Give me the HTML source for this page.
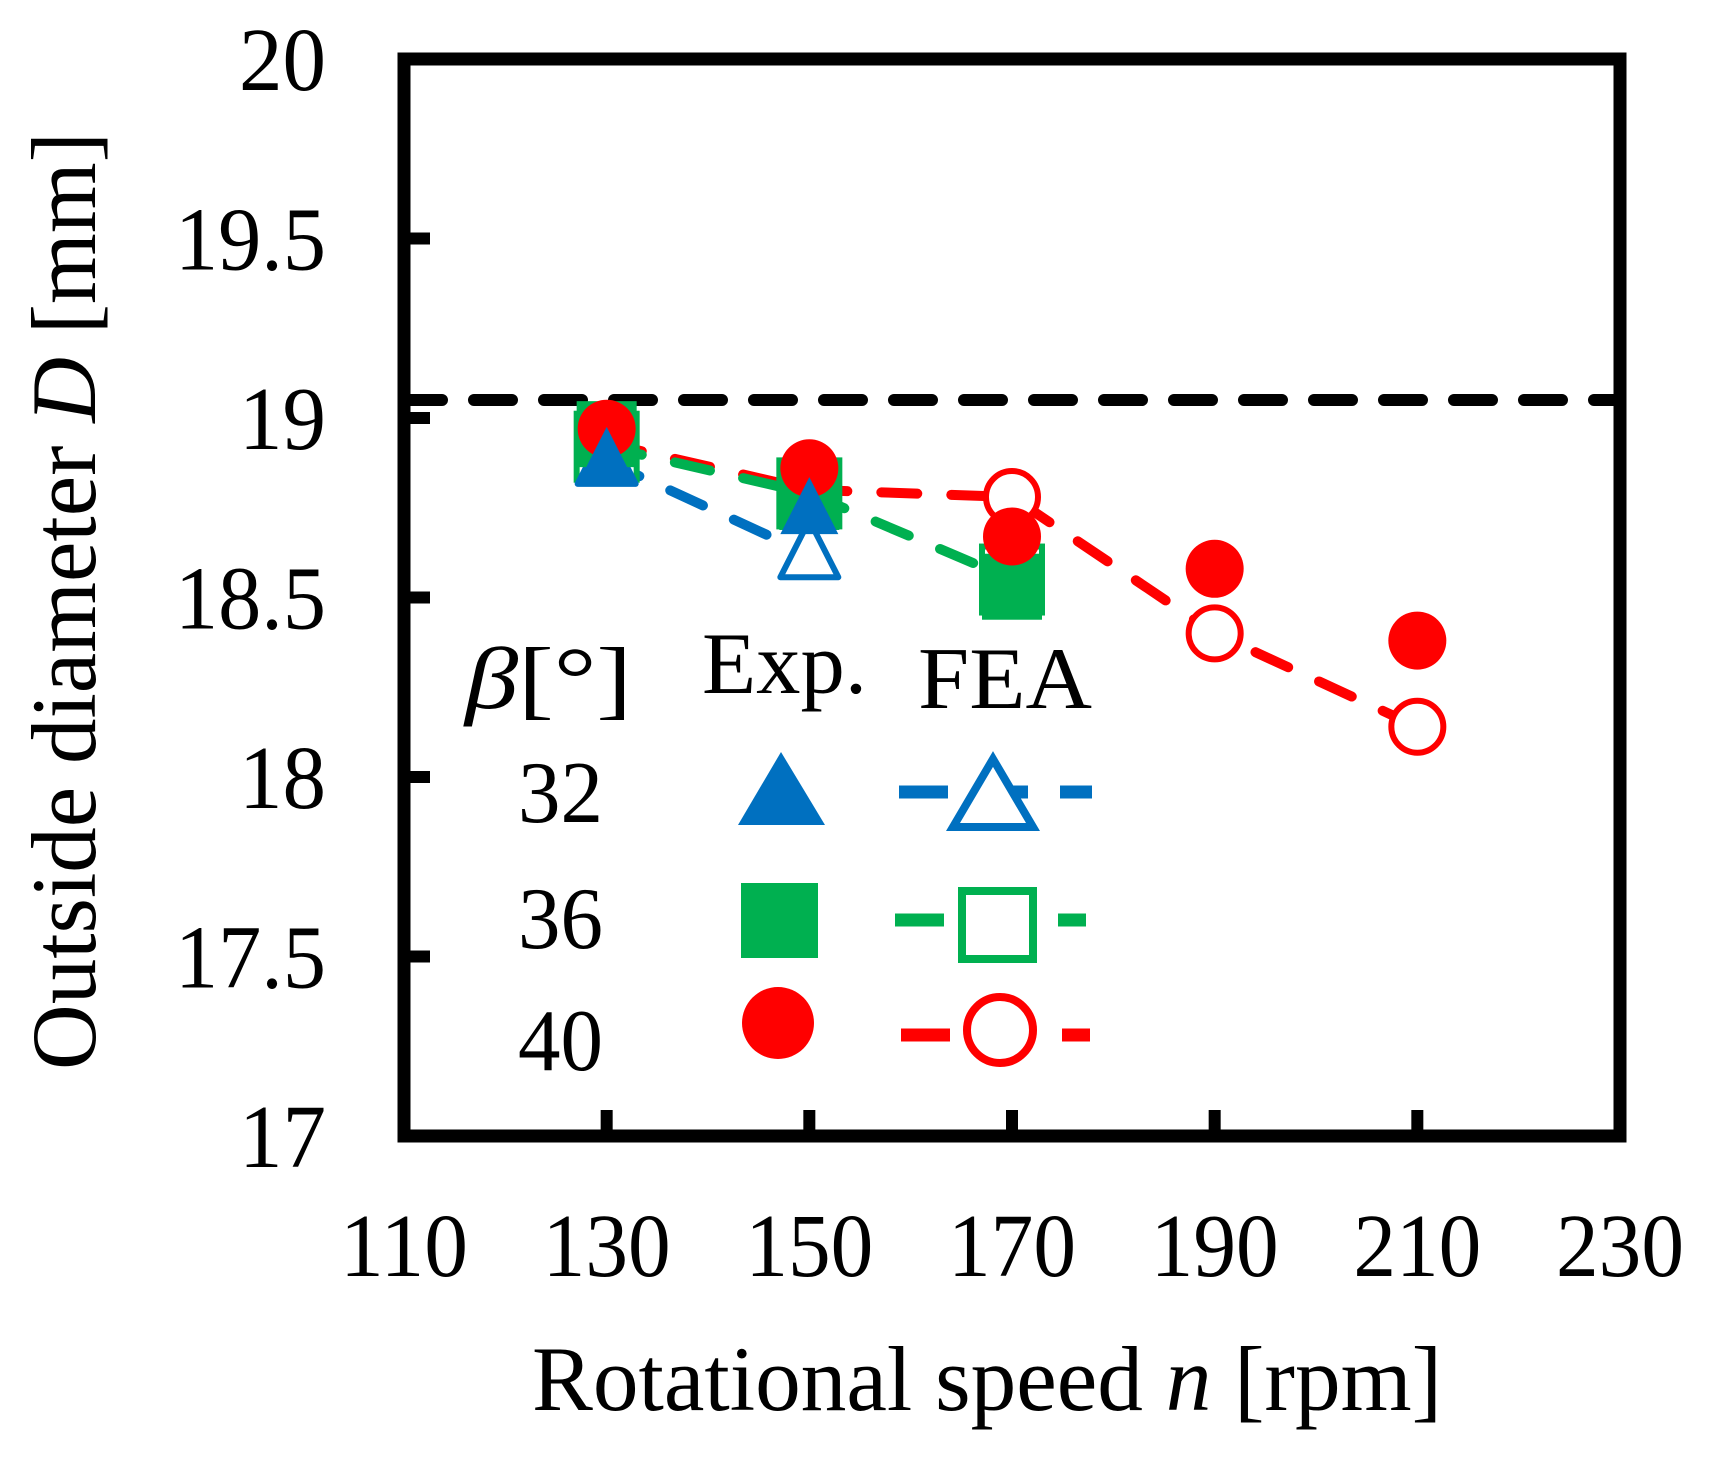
<!DOCTYPE html>
<html><head><meta charset="utf-8"><style>
html,body{margin:0;padding:0;background:#fff;}
svg{display:block;}
text{font-family:"Liberation Serif",serif;fill:#000;}
</style></head><body>
<svg id="chart" width="1711" height="1459" viewBox="0 0 1711 1459">
<g id="series"></g>
<g id="axes"></g>
<g id="legend">
  <text x="465" y="708" font-size="88" textLength="167" lengthAdjust="spacingAndGlyphs"><tspan font-style="italic">β</tspan>[°]</text>
  <text x="702" y="693" font-size="88" textLength="165" lengthAdjust="spacingAndGlyphs">Exp.</text>
  <text x="918" y="708" font-size="88" textLength="174" lengthAdjust="spacingAndGlyphs">FEA</text>
  <text x="518" y="822" font-size="88" textLength="85" lengthAdjust="spacingAndGlyphs">32</text>
  <text x="518" y="948" font-size="88" textLength="85" lengthAdjust="spacingAndGlyphs">36</text>
  <text x="518" y="1070" font-size="88" textLength="85" lengthAdjust="spacingAndGlyphs">40</text>
  <polygon points="781,752 825,825 738,825" fill="#0070C0"/>
  <rect x="741" y="883" width="77" height="75" fill="#00B050"/>
  <circle cx="778" cy="1023" r="36" fill="#FF0000"/>
  <line x1="899" y1="792" x2="1092" y2="792" stroke="#0070C0" stroke-width="13" stroke-dasharray="49 61 19 32 32"/>
  <polygon points="993,759 1033,827 953,827" fill="#fff" stroke="#0070C0" stroke-width="8"/>
  <line x1="895" y1="920" x2="1086" y2="920" stroke="#00B050" stroke-width="13" stroke-dasharray="49 114 28"/>
  <rect x="962" y="891" width="71" height="68" fill="#fff" stroke="#00B050" stroke-width="8"/>
  <line x1="901" y1="1035" x2="1090" y2="1035" stroke="#FF0000" stroke-width="13" stroke-dasharray="49 112 28"/>
  <circle cx="1000" cy="1030" r="33" fill="#fff" stroke="#FF0000" stroke-width="8"/>
</g>
</svg>
<script>
const xTicks = [110,130,150,170,190,210,230];
const yTicks = [17,17.5,18,18.5,19,19.5,20];
const yTickLabels = ["17","17.5","18","18.5","19","19.5","20"];
const refLine = 19.05;
const speeds = [130,150,170,190,210];
const exp32 = [18.88,18.74];
const fea32 = [18.88,18.62];
const exp36 = [18.955,18.78,18.53];
const fea36 = [18.92,18.79,18.55];
const exp40 = [18.97,18.86,18.67,18.58,18.38];
const fea40 = [18.93,18.80,18.78,18.40,18.14];

const X0=404, X1=1620, Y0=1136, Y1=59;
function sx(v){return X0+(v-110)/(230-110)*(X1-X0);}
function sy(v){return Y0-(v-17)/(20-17)*(Y0-Y1);}
const NS="http://www.w3.org/2000/svg";
function mk(tag,attrs,parent){const e=document.createElementNS(NS,tag);for(const k in attrs)e.setAttribute(k,attrs[k]);parent.appendChild(e);return e;}
const axes=document.getElementById('axes'), ser=document.getElementById('series');

let rl=mk('line',{x1:X0,x2:X1,y1:sy(refLine),y2:sy(refLine),stroke:'#000','stroke-width':12,'stroke-dasharray':'38 32','stroke-linecap':'round'},ser);



function dashLine(vals,color,name){
  const pts=vals.map((v,i)=>sx(speeds[i])+','+sy(v)).join(' ');
  const p=mk('polyline',{points:pts,fill:'none',stroke:color,'stroke-width':10,'stroke-dasharray':'36 34','stroke-linecap':'round'},ser);
  
  
}
function tri(x,y,fill,stroke,name){
  const h=57,w=58;
  const p=mk('polygon',{points:`${x},${y-h*0.6} ${x+w/2},${y+h*0.4} ${x-w/2},${y+h*0.4}`,fill:fill,stroke:stroke,'stroke-width':stroke==='none'?0:6,'stroke-linejoin':'round'},ser);
  
  
}
function sq(x,y,fill,stroke,name){
  const p=mk('rect',{x:x-30,y:y-33,width:60,height:66,fill:fill,stroke:stroke,'stroke-width':stroke==='none'?0:6},ser);
  
  
}
function circ(x,y,fill,stroke,name){
  const p=mk('circle',{cx:x,cy:y,r:stroke==='none'?29:26,fill:fill,stroke:stroke,'stroke-width':stroke==='none'?0:6},ser);
  
  
}
dashLine(fea40,'#FF0000','fea-40-line');
dashLine(fea36,'#00B050','fea-36-line');
dashLine(fea32,'#0070C0','fea-32-line');
fea40.forEach((v,i)=>circ(sx(speeds[i]),sy(v),'#fff','#FF0000','fea-40-point-'+speeds[i]));
fea36.forEach((v,i)=>sq(sx(speeds[i]),sy(v),'#fff','#00B050','fea-36-point-'+speeds[i]));
fea32.forEach((v,i)=>tri(sx(speeds[i]),sy(v),'#fff','#0070C0','fea-32-point-'+speeds[i]));
exp36.forEach((v,i)=>sq(sx(speeds[i]),sy(v),'#00B050','none','exp-36-point-'+speeds[i]));
exp40.forEach((v,i)=>circ(sx(speeds[i]),sy(v),'#FF0000','none','exp-40-point-'+speeds[i]));
exp32.forEach((v,i)=>tri(sx(speeds[i]),sy(v),'#0070C0','none','exp-32-point-'+speeds[i]));

let fr=mk('rect',{x:X0,y:Y1,width:X1-X0,height:Y0-Y1,fill:'none',stroke:'#000','stroke-width':13},axes);



yTicks.forEach((v,i)=>{
  if(i>0&&i<yTicks.length-1){
    let t=mk('line',{x1:X0,x2:X0+26,y1:sy(v),y2:sy(v),stroke:'#000','stroke-width':12},axes);
    
    
  }
  const lab=yTickLabels[i];
  const w=lab.length===2?87:151;
  let tx=mk('text',{x:326-w,y:sy(v)+31,'font-size':90,textLength:w,lengthAdjust:'spacingAndGlyphs'},axes);
  tx.textContent=lab;
  
  
});
xTicks.forEach((v,i)=>{
  if(i>0&&i<xTicks.length-1){
    let t=mk('line',{x1:sx(v),x2:sx(v),y1:Y0,y2:Y0-26,stroke:'#000','stroke-width':12},axes);
    
    
  }
  let tx=mk('text',{x:sx(v)-64,y:1276,'font-size':90,textLength:128,lengthAdjust:'spacingAndGlyphs'},axes);
  tx.textContent=String(v);
  
  
});
let xt=mk('text',{x:532,y:1410,'font-size':92,textLength:910,lengthAdjust:'spacingAndGlyphs'},axes);
xt.innerHTML='Rotational speed <tspan font-style="italic">n</tspan> [rpm]';


let yt=mk('text',{x:0,y:0,'font-size':92,textLength:938,lengthAdjust:'spacingAndGlyphs','text-anchor':'middle',transform:'translate(95,601) rotate(-90)'},axes);
yt.innerHTML='Outside diameter <tspan font-style="italic">D</tspan> [mm]';


</script>
</body></html>
